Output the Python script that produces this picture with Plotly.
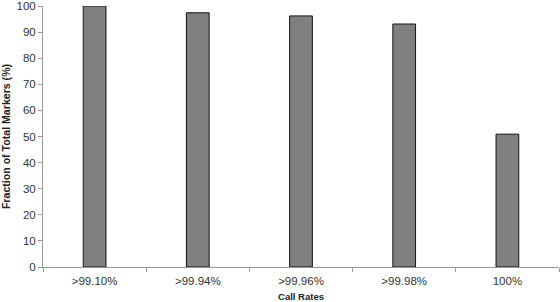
import plotly.graph_objects as go

categories = [">99.10%", ">99.94%", ">99.96%", ">99.98%", "100%"]
fractions = [100.0, 97.4, 96.2, 93.1, 50.9]
y_ticks = [0, 10, 20, 30, 40, 50, 60, 70, 80, 90, 100]

fig = go.Figure(
    go.Bar(
        x=categories,
        y=fractions,
        marker=dict(color="#808080", line=dict(color="#111111", width=1)),
        width=0.22,
    )
)

fig.update_layout(
    width=560,
    height=302,
    margin=dict(l=43, r=1, t=6, b=35, autoexpand=False),
    paper_bgcolor="white",
    plot_bgcolor="white",
    showlegend=False,
    font=dict(family="Liberation Sans, Arial, sans-serif", color="#222222"),
)

fig.update_xaxes(
    type="category",
    automargin=False,
    showline=True,
    linecolor="#999999",
    linewidth=1,
    ticks="outside",
    tickson="boundaries",
    ticklen=4,
    tickcolor="#999999",
    ticklabelstandoff=3,
    tickfont=dict(size=11.5, color="#333333"),
    showgrid=False,
    title=dict(text="<b>Call Rates</b>", font=dict(size=9.5, color="#222222"), standoff=7),
)

fig.update_yaxes(
    range=[0, 100],
    automargin=False,
    tickvals=y_ticks,
    showline=True,
    linecolor="#999999",
    linewidth=1,
    ticks="outside",
    ticklen=4,
    tickcolor="#999999",
    tickfont=dict(size=11.5, color="#333333"),
    showgrid=False,
    zeroline=False,
    title=dict(text="<b>Fraction of Total Markers (%)</b>", font=dict(size=10.6, color="#222222"), standoff=5),
)

fig.write_html(
    "out.html",
    config={"displayModeBar": False},
    post_script="document.body.style.margin='0';",
)
